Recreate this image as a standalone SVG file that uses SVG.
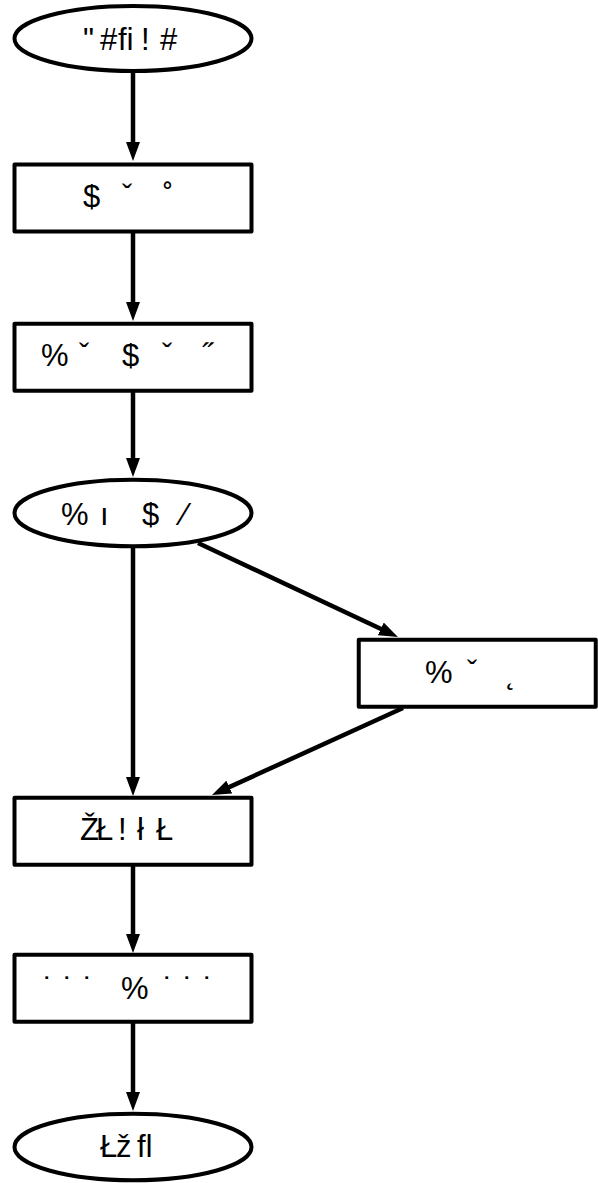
<svg xmlns="http://www.w3.org/2000/svg" width="598" height="1183" viewBox="0 0 598 1183">
  <style>
    .shape { fill: #ffffff; stroke: #000000; stroke-width: 4; stroke-linejoin: round; }
    .label { font-family: "Liberation Sans", Arial, sans-serif; font-size: 31px; fill: #000000; }
    .edge { fill: none; stroke: #000000; stroke-width: 4.5; marker-end: url(#arrow); }
  </style>
  <defs>
    <marker id="arrow" markerUnits="userSpaceOnUse" markerWidth="19" markerHeight="14" refX="8" refY="7" orient="auto">
      <path d="M0,0 L19,7 L0,14 Z" fill="#000000"/>
    </marker>
  </defs>

  <rect width="598" height="1183" fill="#ffffff"/>

  <!-- connectors -->
  <g id="edges">
    <path class="edge" d="M133,72 L133,150"/>
    <path class="edge" d="M133,233 L133,310"/>
    <path class="edge" d="M133,392 L133,466"/>
    <path class="edge" d="M133,548 L133,785"/>
    <path class="edge" d="M198,543 L388,632.3"/>
    <path class="edge" d="M403,708 L222,790.4"/>
    <path class="edge" d="M133,866 L133,942"/>
    <path class="edge" d="M133,1023 L133,1100"/>
  </g>

  <g id="n1">
    <ellipse class="shape" cx="133" cy="38.5" rx="118.5" ry="32.5"/>
    <text class="label" x="83 94 100 118 141 150 160" y="50">" #ﬁ! #</text>
  </g>

  <g id="n2">
    <rect class="shape" x="14.5" y="164.5" width="237" height="67"/>
    <text class="label" x="83 104 122 144 163" y="207">$ ˇ ˚</text>
  </g>

  <g id="n3">
    <rect class="shape" x="14.5" y="323.75" width="237" height="67"/>
    <text class="label" x="41 70 79 100 122 143 162 185 202" y="366">% ˇ $ ˇ ˝</text>
  </g>

  <g id="n4">
    <ellipse class="shape" cx="133" cy="513" rx="118.5" ry="33.25"/>
    <text class="label" x="61 88 100 125 142 165 182" y="525">% ı $ ⁄</text>
  </g>

  <g id="n5">
    <rect class="shape" x="358.75" y="639.75" width="237" height="67"/>
    <text class="label" x="425 455 467 490 506" y="683">% ˇ ˛</text>
  </g>

  <g id="n6">
    <rect class="shape" x="14.5" y="797.75" width="237" height="67"/>
    <text class="label" x="80 96 118 130 137 150 156" y="840">ŽŁ! ł Ł</text>
  </g>

  <g id="n7">
    <rect class="shape" x="14.5" y="954.75" width="237" height="67"/>
    <text class="label" x="43 55 63 75 83 100 121 150 163 175 183 195 203" y="999">˙ ˙ ˙ % ˙ ˙ ˙</text>
  </g>

  <g id="n8">
    <ellipse class="shape" cx="133" cy="1147" rx="118.5" ry="33.25"/>
    <text class="label" x="100 116 130 137" y="1157">Łž ﬂ</text>
  </g>
</svg>
